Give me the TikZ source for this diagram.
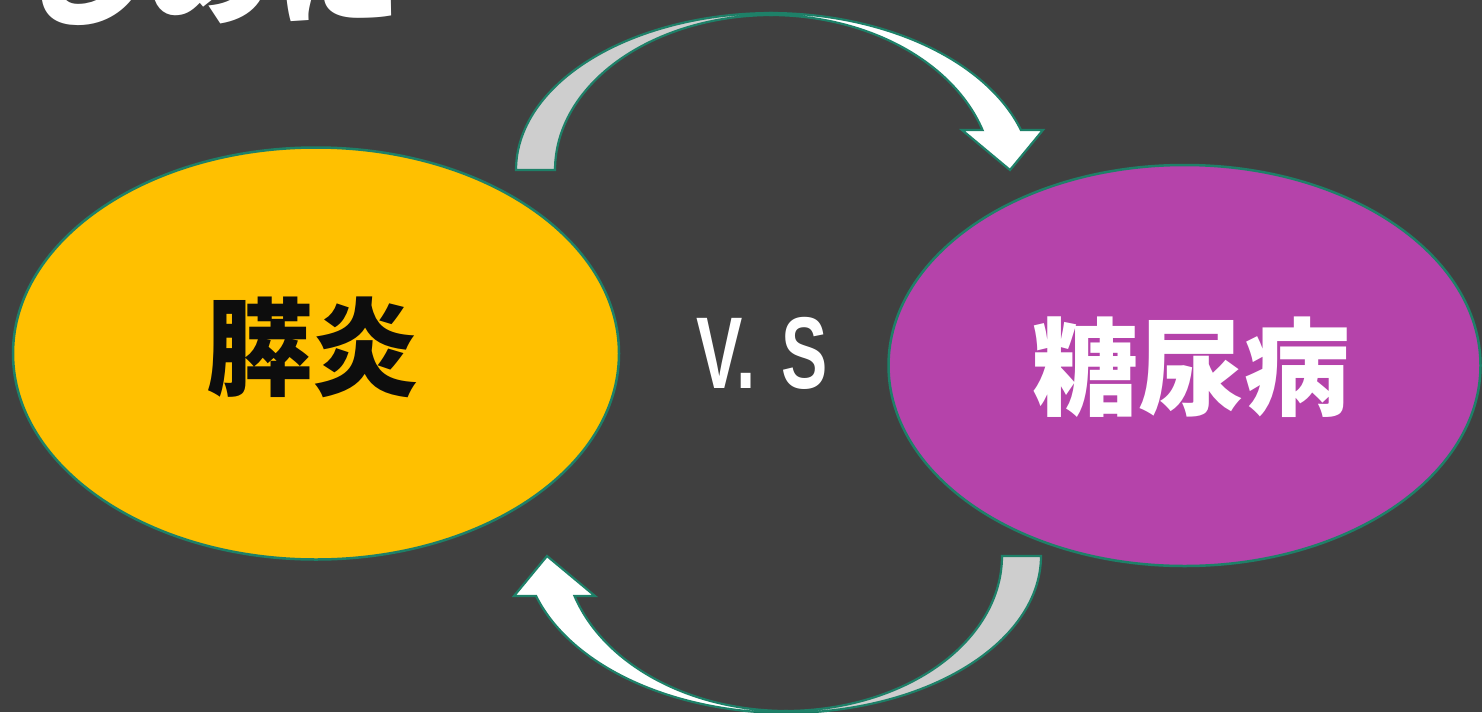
\documentclass[tikz,border=0pt]{standalone}
\usepackage{fontspec}
\newfontfamily\cjk{Noto Sans CJK JP}
\newfontfamily\vsfont{Liberation Sans}
\usetikzlibrary{shapes.geometric}
\definecolor{bg}{RGB}{64,64,64}
\definecolor{gold}{RGB}{255,192,0}
\definecolor{plum}{RGB}{181,67,170}
\definecolor{edgeteal}{RGB}{30,128,104}
\definecolor{backgray}{RGB}{206,206,206}
\tikzset{
  bubble/.style={ellipse, draw=edgeteal, line width=2.5pt, inner sep=0pt},
  bandline/.style={draw=edgeteal, line width=2.2pt, line join=miter},
  bigtext/.style={anchor=base, inner sep=0pt, font=\cjk\bfseries\fontsize{106}{106}\selectfont},
}
\newcommand{\curvedarrow}{%
  \path[bandline, fill=backgray]
    plot[domain=180:90, samples=60] ({772+256*cos(\x)},{170-157*sin(\x)})
    -- plot[domain=90:180, samples=60] ({772+217*cos(\x)},{170-155*sin(\x)}) -- cycle;
  \path[bandline, fill=white]
    plot[domain=90:17.4, samples=60] ({770+263*cos(\x)},{180-167*sin(\x)})
    -- (1043,130) -- (1010,170) -- (962,130)
    -- plot[domain=17.6:90, samples=60] ({770+223*cos(\x)},{180-165*sin(\x)}) -- cycle;
}
\begin{document}
\begin{tikzpicture}[x=1pt,y=-1pt]
\fill[bg] (0,0) rectangle (1482,712);
\useasboundingbox (0,0) rectangle (1482,712);

\node[anchor=base west, inner sep=0pt, text=white, font=\cjk\bfseries\fontsize{128}{128}\selectfont] (title) at (18,15) {じめに};

\node[bubble, fill=gold, minimum width=606pt, minimum height=412pt] (pan) at (316,353.5) {};
\node[bubble, fill=plum, minimum width=592pt, minimum height=401pt] (dia) at (1184.5,365.5) {};

\node[bigtext, text={rgb,255:red,13;green,13;blue,13}] (pantext) at (312,387) {膵炎};
\node[bigtext, text=white] (diatext) at (1191,407) {糖尿病};

\node[anchor=base, inner sep=0pt, text=white, font=\vsfont\bfseries\fontsize{102}{102}\selectfont] (vs) at (762,388) {\scalebox{0.68}[1]{V.\hspace{0.38em}S}};

\curvedarrow
\begin{scope}[rotate around={180:(778.5,363)}]
\curvedarrow
\end{scope}
\end{tikzpicture}
\end{document}
